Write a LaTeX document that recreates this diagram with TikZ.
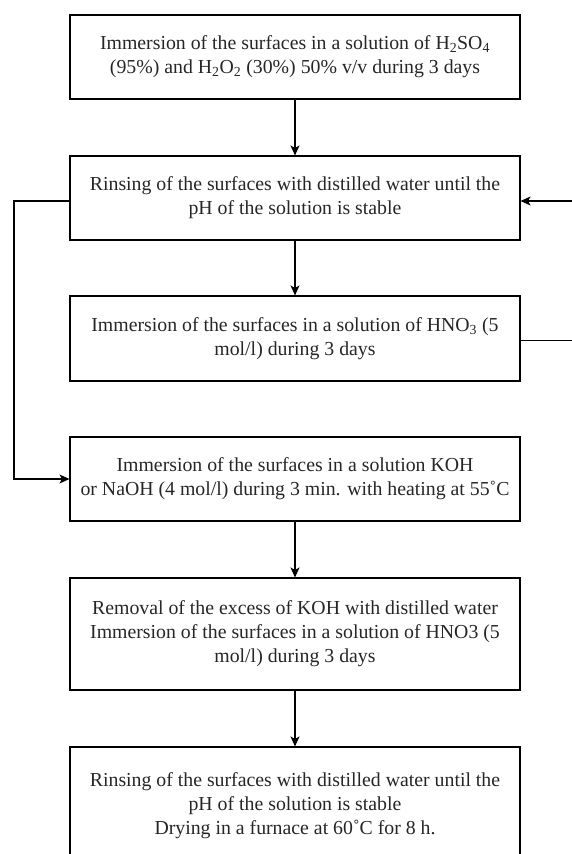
\documentclass[tikz,border=0pt]{standalone}
\usepackage{fontspec}
\setmainfont{Liberation Serif}
\usetikzlibrary{arrows.meta}
\begin{document}
\begin{tikzpicture}[x=1pt,y=-1pt,
  box/.style={draw, line width=1.1pt, minimum width=450pt, align=center, inner sep=0pt,
    font=\fontsize{19.8}{24}\selectfont, text=black!85},
  arr/.style={line width=1.1pt, -{Stealth[length=10pt,width=9pt,inset=2.5pt]}}]
\useasboundingbox (0,0) rectangle (571,854);
\node[box, minimum height=84pt] (b1) at (295,57)
  {Immersion of the surfaces in a solution of H\textsubscript{2}SO\textsubscript{4}\\
   (95\%) and H\textsubscript{2}O\textsubscript{2} (30\%) 50\% v/v during 3 days};
\node[box, minimum height=84pt] (b2) at (295,198)
  {Rinsing of the surfaces with distilled water until the\\ pH of the solution is stable};
\node[box, minimum height=85pt] (b3) at (295,338.5)
  {Immersion of the surfaces in a solution of HNO\textsubscript{3} (5\\ mol/l) during 3 days};
\node[box, minimum height=84pt] (b4) at (295,479)
  {Immersion of the surfaces in a solution KOH\\ or NaOH (4 mol/l) during 3 min. with heating at 55˚C};
\node[box, minimum height=112pt] (b5) at (295,634)
  {Removal of the excess of KOH with distilled water\\
   Immersion of the surfaces in a solution of HNO3 (5\\ mol/l) during 3 days};
\node[box, minimum height=118pt] (b6) at (295,806)
  {Rinsing of the surfaces with distilled water until the\\
   pH of the solution is stable\\ Drying in a furnace at 60˚C for 8 h.};
\draw[arr] (b1) -- (b2);
\draw[arr] (b2) -- (b3);
\draw[arr] (b4) -- (b5);
\draw[arr] (b5) -- (b6);
\coordinate (lft) at (14,340);
\coordinate (rgt) at (585,270);
\draw[arr] ([yshift=-3pt]b2.west) -| (lft) |- (b4.west);
\draw[arr] ([yshift=-2pt]b3.east) -| (rgt) |- ([yshift=-3pt]b2.east);
\end{tikzpicture}
\end{document}
